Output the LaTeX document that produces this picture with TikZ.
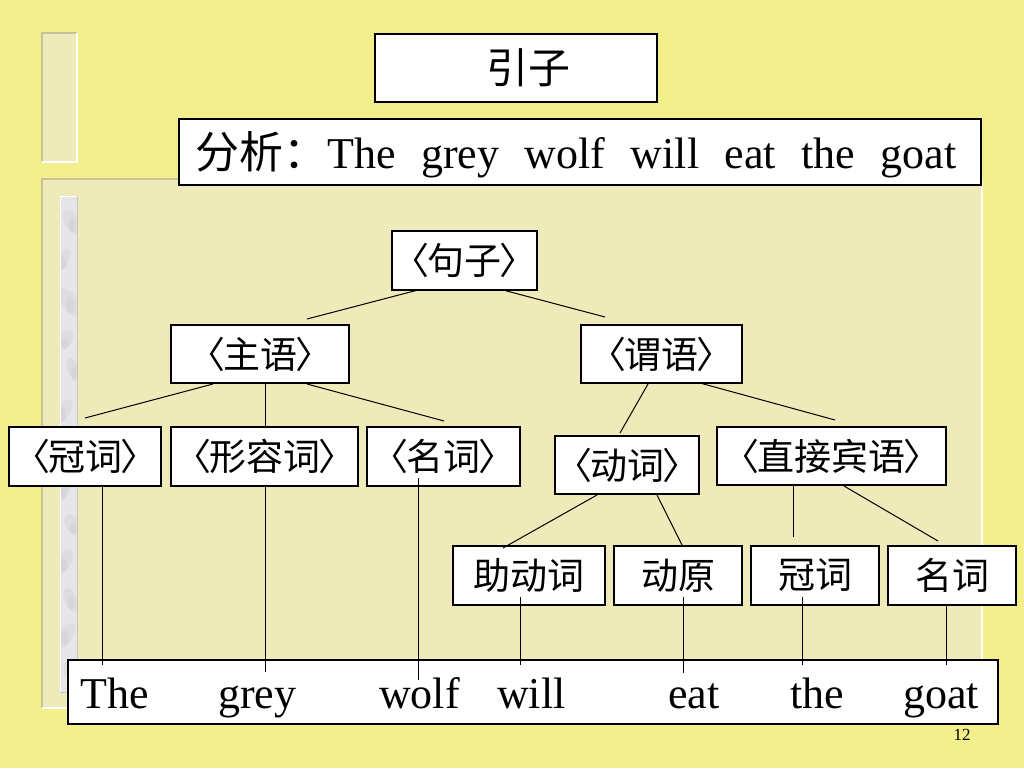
\documentclass[tikz,border=0pt]{standalone}
\usepackage{fontspec}
\setmainfont{Liberation Serif}
\newfontfamily\cjk{Noto Sans CJK SC}
\usetikzlibrary{calc}
\definecolor{bgY}{HTML}{F3EF8C}
\definecolor{panelY}{HTML}{EEEAB9}
\definecolor{panelDark}{HTML}{C8C19A}
\definecolor{marbleBase}{HTML}{E6E6EA}
\newcommand\ab[1]{〈\kern-2pt#1\kern-2pt〉}
\begin{document}
\begin{tikzpicture}[x=1pt,y=-1pt,
  treebox/.style={draw=black,line width=1.2pt,fill=white,inner sep=0pt,outer sep=0pt,
    font=\cjk\fontsize{37}{40}\selectfont},
  wordtxt/.style={inner sep=0pt,anchor=base west,font=\fontsize{44}{48}\selectfont},
  link/.style={line width=1pt,draw=black},
  blot/.style={fill=gray!60,opacity=0.16}
]
\useasboundingbox (0,0) rectangle (1024,768);
\fill[bgY] (0,0) rectangle (1024,768);
% small decorative panel
\fill[panelY] (42,33) rectangle (77,162);
\draw[panelDark,line width=1.5pt] (42,162) -- (42,33) -- (77,33);
\draw[white,line width=1.5pt] (77,33) -- (77,162) -- (42,162);
% large panel
\fill[panelY] (42,179) rectangle (982,708);
\draw[panelDark,line width=1.5pt] (42,708) -- (42,179) -- (982,179);
\draw[white,line width=1.5pt] (982,179) -- (982,708) -- (42,708);
% marble strip
\fill[marbleBase] (60,196) rectangle (77,692);
\begin{scope}
\clip (60,196) rectangle (77,692);
\foreach \yy/\xx/\rx/\ry/\rot in {222/72/7/14/30, 260/63/6/12/-25, 302/70/8/16/35, 340/65/7/11/-30, 370/74/6/13/25,
  412/62/7/15/-35, 448/70/8/12/30, 488/64/6/16/-25, 525/73/7/12/35, 562/63/8/14/-30, 600/71/6/13/25,
  636/65/7/15/-35, 672/72/7/12/30}{
  \fill[blot,rotate around={\rot:(\xx,\yy)}] (\xx,\yy) ellipse [x radius=\rx, y radius=\ry];
  \fill[blot] (\xx,\yy+3) ellipse [x radius=\rx*0.5, y radius=\ry*0.5];
}
\end{scope}
\draw[white,line width=1pt] (60,692) -- (60,196) -- (77,196);
\draw[gray!45,line width=0.8pt] (77,196) -- (77,692) -- (60,692);

% title and analysis boxes
\node[treebox,minimum width=282,minimum height=68,font=\cjk\fontsize{42}{44}\selectfont] (title) at (516,68) {\hspace*{24pt}引子};
\node[treebox,minimum width=802,minimum height=66] (ana) at (580,152) {};
\node[wordtxt] (anatxt) at (195,168) {{\cjk 分析：}The\hspace{25.5pt}grey\hspace{25.5pt}wolf\hspace{25.5pt}will\hspace{25.5pt}eat\hspace{25.5pt}the\hspace{25.5pt}goat};

% tree nodes
\node[treebox,minimum width=145,minimum height=59] (S) at (464.5,260.5) {\ab{句子}};
\node[treebox,minimum width=178,minimum height=58] (Subj) at (260,354) {\ab{主语}};
\node[treebox,minimum width=161,minimum height=58] (Pred) at (661.5,354) {\ab{谓语}};
\node[treebox,minimum width=152,minimum height=59] (Art) at (85,456.5) {\ab{冠词}};
\node[treebox,minimum width=187,minimum height=59] (Adj) at (264.5,456.5) {\ab{形容词}};
\node[treebox,minimum width=153,minimum height=59] (Noun) at (443.5,456.5) {\ab{名词}};
\node[treebox,minimum width=144,minimum height=58] (Verb) at (627,465) {\ab{动词}};
\node[treebox,minimum width=229,minimum height=58] (Obj) at (831.5,456) {\ab{直接宾语}};
\node[treebox,minimum width=152,minimum height=59] (Aux) at (529,575.5) {助动词};
\node[treebox,minimum width=128,minimum height=59] (VB) at (678,575.5) {动原};
\node[treebox,minimum width=128,minimum height=59] (Art2) at (815,575.5) {冠词};
\node[treebox,minimum width=128,minimum height=59] (N2) at (952,575.5) {名词};
\node[treebox,minimum width=930,minimum height=64] (sent) at (533,692) {};

% words of the sentence
\node[wordtxt] (wThe) at (80,708) {The};
\node[wordtxt] (wGrey) at (218,708) {grey};
\node[wordtxt] (wWolf) at (379,708) {wolf};
\node[wordtxt] (wWill) at (497,708) {will};
\node[wordtxt] (wEat) at (668,708) {eat};
\node[wordtxt] (wthe) at (790,708) {the};
\node[wordtxt] (wGoat) at (903,708) {goat};

% tree connectors
\draw[link] ($(S.south west)+(26,0)$) -- ($(Subj.north west)+(136,-6)$);
\draw[link] ($(S.south west)+(111,0)$) -- ($(Pred.north west)+(24,-8)$);
\draw[link] ($(Subj.south west)+(42,1)$) -- ($(Art.north west)+(76,-9)$);
\draw[link] ($(Subj.south west)+(94,0)$) -- ($(Adj.north west)+(94,0)$);
\draw[link] ($(Subj.south west)+(136,1)$) -- ($(Noun.north west)+(77,-6)$);
\draw[link] ($(Pred.south west)+(67,1)$) -- ($(Verb.north west)+(65,-3)$);
\draw[link] ($(Pred.south west)+(119,0)$) -- ($(Obj.north west)+(118,-7)$);
\draw[link] ($(Verb.south west)+(42,1)$) -- ($(Aux.north west)+(50,2)$);
\draw[link] ($(Verb.south west)+(102,1)$) -- ($(VB.north west)+(69,1)$);
\draw[link] ($(Obj.south west)+(76,1)$) -- ($(Art2.north west)+(42,-9)$);
\draw[link] ($(Obj.south west)+(127,1)$) -- ($(N2.north west)+(50,-5)$);
% connectors down to the sentence
\draw[link] ($(Art.south west)+(93,0)$) -- ($(sent.north west)+(34,5)$);
\draw[link] ($(Adj.south west)+(94,0)$) -- ($(sent.north west)+(197,12)$);
\draw[link] ($(Noun.south west)+(51,-8)$) -- ($(sent.north west)+(350,20)$);
\draw[link] ($(Aux.south west)+(67,-8)$) -- ($(sent.north west)+(452,5)$);
\draw[link] ($(VB.south west)+(69,-8)$) -- ($(sent.north west)+(615,13)$);
\draw[link] ($(Art2.south west)+(51,-8)$) -- ($(sent.north west)+(734,5)$);
\draw[link] ($(N2.south west)+(58.5,0)$) -- ($(sent.north west)+(878.5,5)$);

% page number
\node[inner sep=0pt,font=\fontsize{17}{18}\selectfont] (pnum) at (962,735) {12};
\end{tikzpicture}
\end{document}
